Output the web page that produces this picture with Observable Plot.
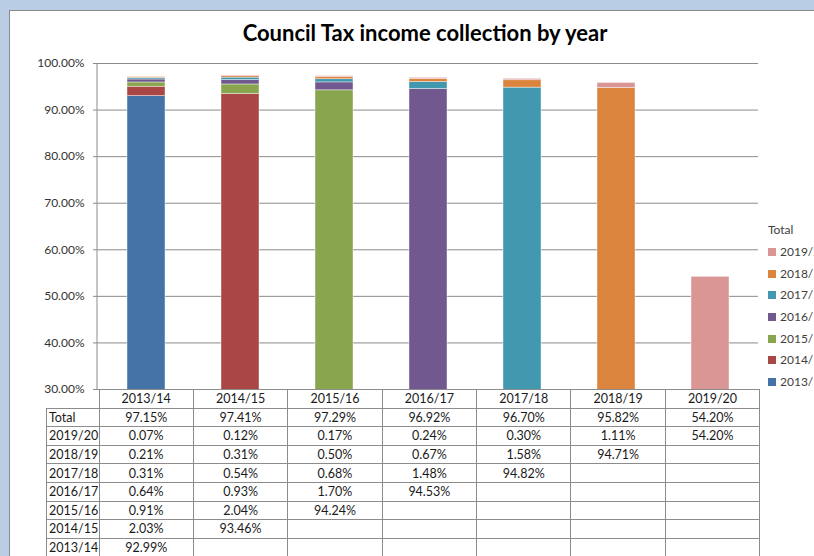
<!DOCTYPE html>
<html>
<head>
<meta charset="utf-8">
<script src="https://cdn.jsdelivr.net/npm/d3@7"></script>
<script src="https://cdn.jsdelivr.net/npm/@observablehq/plot@0.6"></script>
<style>
  html, body { margin: 0; padding: 0; width: 814px; height: 556px; overflow: hidden; background: #B9CDE5; font-family: Lato, "Open Sans", sans-serif; }
  #frame { position: absolute; left: 9px; top: 10px; width: 840px; height: 560px; background: #fff; border: 1px solid #8a8a8a; }
  #title { position: absolute; left: 10px; width: 830px; top: 20px; text-align: center; font-size: 22px; font-weight: bold; line-height: 26px; color: #000; }
  #chart { position: absolute; left: 0; top: 0; }
  #legend { position: absolute; left: 768px; top: 221px; font-size: 12px; color: #404040; white-space: nowrap; }
  #legend .hd { height: 20px; line-height: 18px; }
  #legend .it { height: 21.7px; line-height: 21.7px; }
  #legend .sw { display: inline-block; width: 8px; height: 8px; margin-right: 4px; }
  #tbl { position: absolute; left: 46px; top: 389px; border-collapse: collapse; font-size: 12.5px; color: #1a1a1a; table-layout: fixed; }
  #tbl td { border: 1px solid #8c8c8c; height: 17.6px; padding: 0; text-align: center; line-height: 17px; }
  #tbl td.lab { text-align: left; padding-left: 2px; width: 49.5px; }
  #tbl td.c { width: 93.4px; }
  #tbl tr.hdr td.lab { border: none; border-right: 1px solid #8c8c8c; }
</style>
</head>
<body>
<div id="frame"></div>
<div id="title">Council Tax income collection by year</div>
<div id="chart"></div>
<div id="legend"></div>
<table id="tbl"></table>
<script>
// ---- data ----
const categories = ["2013/14", "2014/15", "2015/16", "2016/17", "2017/18", "2018/19", "2019/20"];
const seriesNames = ["2013/14", "2014/15", "2015/16", "2016/17", "2017/18", "2018/19", "2019/20"];
const s2013_14 = [92.99, null, null, null, null, null, null];
const s2014_15 = [2.03, 93.46, null, null, null, null, null];
const s2015_16 = [0.91, 2.04, 94.24, null, null, null, null];
const s2016_17 = [0.64, 0.93, 1.70, 94.53, null, null, null];
const s2017_18 = [0.31, 0.54, 0.68, 1.48, 94.82, null, null];
const s2018_19 = [0.21, 0.31, 0.50, 0.67, 1.58, 94.71, null];
const s2019_20 = [0.07, 0.12, 0.17, 0.24, 0.30, 1.11, 54.20];
const totals = [97.15, 97.41, 97.29, 96.92, 96.70, 95.82, 54.20];
const seriesValues = [s2013_14, s2014_15, s2015_16, s2016_17, s2017_18, s2018_19, s2019_20];
const colors = ["#4573A7", "#AA4643", "#89A54E", "#71588F", "#4198AF", "#DB843D", "#DA9694"];
const yTicks = [30, 40, 50, 60, 70, 80, 90, 100];

// ---- long table for Plot ----
const rows = [];
seriesNames.forEach((s, i) => {
  categories.forEach((c, j) => {
    const v = seriesValues[i][j];
    if (v != null) rows.push({cat: c, series: s, value: v});
  });
});

const fmt = d => d.toFixed(2) + "%";

const plot = Plot.plot({
  width: 814,
  height: 400,
  marginLeft: 97,
  marginRight: 56,
  marginTop: 63,
  marginBottom: 11,
  style: {fontFamily: "Lato, 'Open Sans', sans-serif", fontSize: "12px", color: "#333", background: "transparent"},
  x: {domain: categories, paddingInner: 0.6, paddingOuter: 0.3, axis: null},
  y: {domain: [30, 100], axis: null},
  color: {domain: seriesNames, range: colors},
  marks: [
    Plot.ruleY(yTicks, {stroke: "#8c8c8c", strokeWidth: 1}),
    Plot.barY(rows, Plot.stackY({x: "cat", y: "value", fill: "series", stroke: "#ffffff", strokeWidth: 0.6, strokeOpacity: 0.7, clip: "frame"})),
    Plot.axisY(yTicks, {label: null, tickSize: 4, tickPadding: 9, tickFormat: fmt, stroke: "#8c8c8c", fill: "#333", fontSize: 12})
  ]
});
document.getElementById("chart").appendChild(plot);
// vertical axis line on left edge of plot frame
const svg = d3.select(plot);
const yS = plot.scale("y");
svg.append("line")
  .attr("x1", 97).attr("x2", 97)
  .attr("y1", yS.apply(100)).attr("y2", yS.apply(30))
  .attr("stroke", "#8c8c8c");

// ---- legend ----
const legend = d3.select("#legend");
legend.append("div").attr("class", "hd").text("Total");
seriesNames.slice().reverse().forEach(s => {
  const it = legend.append("div").attr("class", "it");
  it.append("span").attr("class", "sw").style("background", colors[seriesNames.indexOf(s)]);
  it.append("span").text(s);
});

// ---- data table ----
const tbl = d3.select("#tbl");
const hdr = tbl.append("tr").attr("class", "hdr");
hdr.append("td").attr("class", "lab");
categories.forEach(c => hdr.append("td").attr("class", "c").text(c));
const tr0 = tbl.append("tr");
tr0.append("td").attr("class", "lab").text("Total");
totals.forEach(v => tr0.append("td").attr("class", "c").text(fmt(v)));
seriesNames.slice().reverse().forEach(s => {
  const tr = tbl.append("tr");
  tr.append("td").attr("class", "lab").text(s);
  const vals = seriesValues[seriesNames.indexOf(s)];
  vals.forEach(v => tr.append("td").attr("class", "c").text(v == null ? "" : fmt(v)));
});
</script>
</body>
</html>
